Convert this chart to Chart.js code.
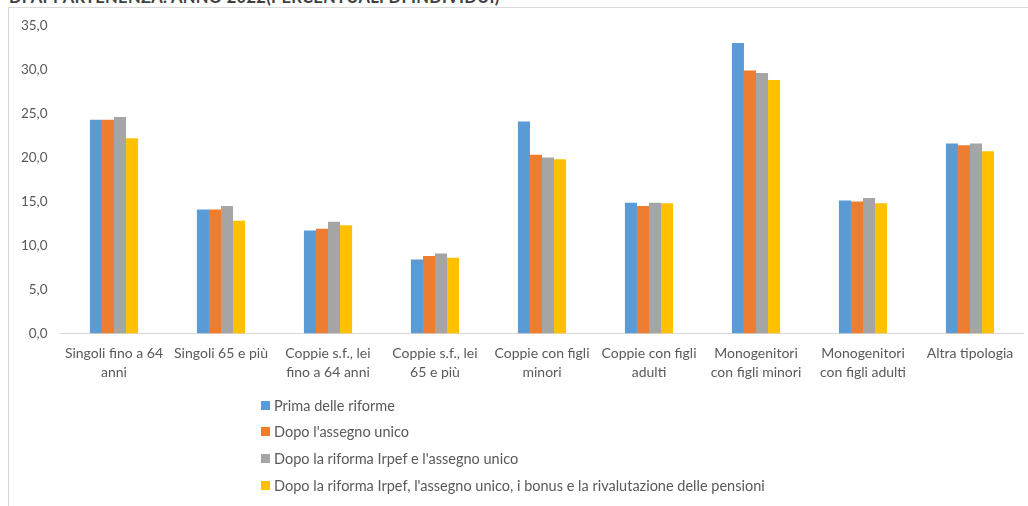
<!DOCTYPE html>
<html>
<head>
<meta charset="utf-8">
<script src="https://cdn.jsdelivr.net/npm/chart.js@4"></script>
<style>
  html, body { margin: 0; padding: 0; background: #fff; width: 1028px; height: 506px; overflow: hidden; }
  #title { position: absolute; left: 9px; top: -13px; font: bold 16.5px Lato, sans-serif; color: #404040; white-space: nowrap; letter-spacing: 0.3px; }
  #frame { position: absolute; left: 8px; top: 7px; width: 1030px; height: 510px; border-top: 1px solid #d9d9d9; border-left: 1px solid #d9d9d9; }
  #wrap { position: absolute; left: 0; top: 0; width: 1028px; height: 400px; }
  #legend { position: absolute; left: 261px; top: 392px; font: 14.5px Lato, sans-serif; color: #595959; }
  #legend div { height: 26.6px; display: flex; align-items: center; white-space: nowrap; }
  #legend span.box { display: inline-block; width: 9px; height: 9px; margin-right: 4px; }
</style>
</head>
<body>
<div id="title">DI APPARTENENZA. ANNO 2022(PERCENTUALI DI INDIVIDUI)</div>
<div id="frame"></div>
<div id="wrap"><canvas id="c"></canvas></div>
<div id="legend"></div>
<script>
const categories = [
  ["Singoli fino a 64", "anni"],
  ["Singoli 65 e più"],
  ["Coppie s.f., lei", "fino a 64 anni"],
  ["Coppie s.f., lei", "65 e più"],
  ["Coppie con figli", "minori"],
  ["Coppie con figli", "adulti"],
  ["Monogenitori", "con figli minori"],
  ["Monogenitori", "con figli adulti"],
  ["Altra tipologia"]
];
const seriesNames = [
  "Prima delle riforme",
  "Dopo l'assegno unico",
  "Dopo la riforma Irpef e l'assegno unico",
  "Dopo la riforma Irpef, l'assegno unico, i bonus e la rivalutazione delle pensioni"
];
const primaRiforme     = [24.3, 14.1, 11.7, 8.4, 24.1, 14.85, 33.0, 15.1, 21.6];
const dopoAssegno      = [24.3, 14.1, 11.9, 8.8, 20.3, 14.5, 29.9, 15.0, 21.4];
const dopoIrpefAssegno = [24.6, 14.5, 12.7, 9.1, 20.0, 14.85, 29.6, 15.4, 21.6];
const dopoTutto        = [22.2, 12.8, 12.3, 8.6, 19.8, 14.8, 28.8, 14.8, 20.7];
const yTicks = [0, 5, 10, 15, 20, 25, 30, 35];
const colors = ["#5B9BD5", "#ED7D31", "#A5A5A5", "#FFC000"];

const seriesValues = [primaRiforme, dopoAssegno, dopoIrpefAssegno, dopoTutto];
const FONT = "Lato, sans-serif";

const chart = new Chart(document.getElementById("c"), {
  type: "bar",
  data: {
    labels: categories,
    datasets: seriesValues.map((v, i) => ({
      label: seriesNames[i],
      data: v,
      backgroundColor: colors[i],
      borderWidth: 0,
      categoryPercentage: 0.45,
      barPercentage: 1.0
    }))
  },
  options: {
    responsive: true,
    maintainAspectRatio: false,
    animation: false,
    layout: { padding: { top: 25.5, right: 4.5, left: 0, bottom: 0 } },
    plugins: { legend: { display: false }, tooltip: { enabled: false } },
    scales: {
      x: {
        grid: { display: false, drawTicks: false },
        border: { display: true, color: "#d9d9d9", width: 1 },
        ticks: { color: "#595959", font: { family: FONT, size: 14, lineHeight: 1.36 }, padding: 10, maxRotation: 0, autoSkip: false },
        afterFit: (s) => { s.height = 400 - 333.5; }
      },
      y: {
        min: 0, max: 35,
        afterBuildTicks: (s) => { s.ticks = yTicks.map(v => ({ value: v })); },
        grid: { display: false, drawTicks: false },
        border: { display: false },
        ticks: {
          color: "#595959", font: { family: FONT, size: 13.5 }, padding: 13,
          callback: (v) => Number(v).toFixed(1).replace(".", ",")
        },
        afterFit: (s) => { s.width = 60.5; }
      }
    }
  }
});

const legendEl = document.getElementById("legend");
chart.data.datasets.forEach((ds) => {
  const row = document.createElement("div");
  const box = document.createElement("span");
  box.className = "box";
  box.style.background = ds.backgroundColor;
  row.appendChild(box);
  row.appendChild(document.createTextNode(ds.label));
  legendEl.appendChild(row);
});
</script>
</body>
</html>
